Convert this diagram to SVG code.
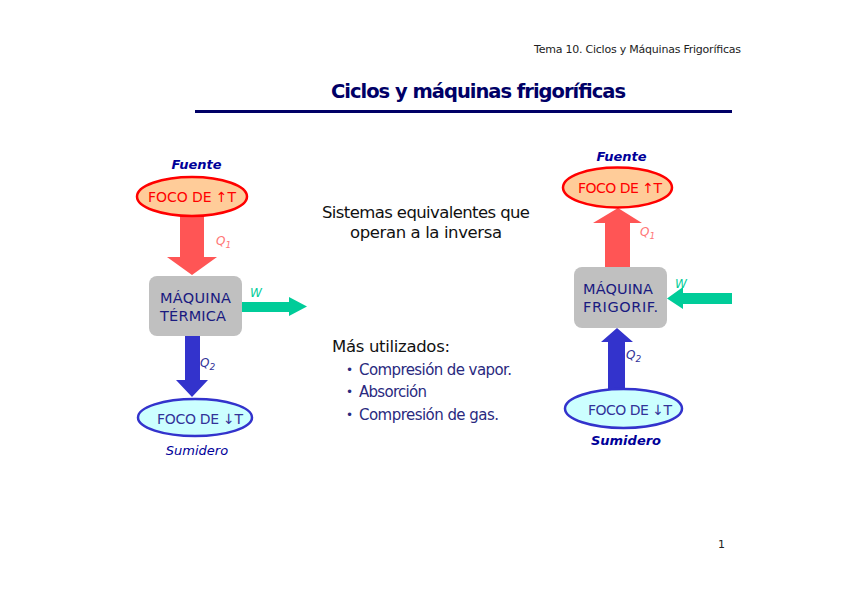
<svg xmlns="http://www.w3.org/2000/svg" width="848" height="599" viewBox="0 0 848 599">
<style>
text{font-family:"DejaVu Sans","Liberation Sans",sans-serif}
.hdr{font-size:11px;fill:#222}
.title{font-size:19.5px;font-weight:bold;fill:#000066}
.lbl{font-size:13px;font-style:italic;fill:#000099}
.lblb{font-size:13px;font-style:italic;font-weight:bold;fill:#000099}
.hot{fill:#ffcc99;stroke:#ff0000;stroke-width:2.5}
.cold{fill:#ccffff;stroke:#3333cc;stroke-width:2.5}
.hott{font-size:14px;fill:#ff0000}
.coldt{font-size:14px;fill:#333399}
.box{fill:#c0c0c0}
.boxt{font-size:14.5px;fill:#1a1a80}
.red{fill:#ff5555}
.blue{fill:#3333cc}
.green{fill:#00cc99}
.q1{font-size:12px;font-style:italic;fill:#ff7777}
.q2{font-size:12px;font-style:italic;fill:#333399}
.w{font-size:12px;font-style:italic;fill:#00cc99}
.mid{font-size:16.5px;fill:#111}
.bul{font-size:15px;fill:#2a2a80}
.dot{font-size:12px;fill:#2a2a80}
</style>
<rect width="848" height="599" fill="#fff"/>
<text class="hdr" x="534" y="53" textLength="207">Tema 10. Ciclos y Máquinas Frigoríficas</text>
<text class="title" x="331" y="98" textLength="295">Ciclos y máquinas frigoríficas</text>
<rect x="195" y="110" width="537" height="3" fill="#000066"/>

<g id="connectors">
<polygon class="red" points="180,216 204,216 204,257 217,257 192,275 167,257 180,257"/>
<polygon class="green" points="242,302 289,302 289,297 307,306.5 289,316 289,312 242,312"/>
<polygon class="blue" points="185,336 200,336 200,380 208,380 192,397 176,380 185,380"/>
<polygon class="red" points="605,268 630,268 630,223 642,223 618,208 593,223 605,223"/>
<polygon class="green" points="732,293 683,293 683,287 667,298.5 683,309 683,304 732,304"/>
<polygon class="blue" points="608,389 625,389 625,342 633,342 617,328 601,342 608,342"/>
</g>

<g id="hot-left">
<text class="lblb" x="196.5" y="169" text-anchor="middle">Fuente</text>
<ellipse class="hot" cx="192" cy="196.5" rx="55" ry="19.5"/>
<text class="hott" x="192" y="201.5" text-anchor="middle" textLength="88">FOCO DE ↑T</text>
</g>
<g id="engine">
<rect class="box" x="149" y="276" width="93" height="60" rx="8"/>
<text class="boxt" x="160" y="303" textLength="71">MÁQUINA</text>
<text class="boxt" x="160" y="321" textLength="66">TÉRMICA</text>
</g>
<text class="q1" x="216" y="245">Q<tspan font-size="9" dy="3">1</tspan></text>
<text class="w" x="250" y="297">W</text>
<text class="q2" x="200" y="367">Q<tspan font-size="9" dy="3">2</tspan></text>
<g id="cold-left">
<ellipse class="cold" cx="195" cy="417.5" rx="57" ry="18.5"/>
<text class="coldt" x="200" y="424" text-anchor="middle" textLength="86">FOCO DE ↓T</text>
<text class="lbl" x="197" y="455" text-anchor="middle">Sumidero</text>
</g>

<g id="hot-right">
<text class="lblb" x="621.5" y="161" text-anchor="middle">Fuente</text>
<ellipse class="hot" cx="617.5" cy="187.5" rx="54.5" ry="20"/>
<text class="hott" x="620" y="193" text-anchor="middle" textLength="84">FOCO DE ↑T</text>
</g>
<g id="fridge">
<rect class="box" x="574" y="267" width="93" height="61" rx="8"/>
<text class="boxt" x="583" y="294" textLength="70">MÁQUINA</text>
<text class="boxt" x="583" y="312" textLength="75">FRIGORIF.</text>
</g>
<text class="q1" x="640" y="236">Q<tspan font-size="9" dy="3">1</tspan></text>
<text class="w" x="675" y="288">W</text>
<text class="q2" x="626" y="359">Q<tspan font-size="9" dy="3">2</tspan></text>
<g id="cold-right">
<ellipse class="cold" cx="623.5" cy="408.5" rx="58.5" ry="19.5"/>
<text class="coldt" x="630" y="415" text-anchor="middle" textLength="84">FOCO DE ↓T</text>
<text class="lblb" x="626" y="445" text-anchor="middle">Sumidero</text>
</g>

<text class="mid" x="426" y="218" text-anchor="middle" textLength="208">Sistemas equivalentes que</text>
<text class="mid" x="426" y="238" text-anchor="middle" textLength="152">operan a la inversa</text>
<text class="mid" x="332" y="352" textLength="118">Más utilizados:</text>
<text class="dot" x="346" y="374">•</text>
<text class="bul" x="359" y="375" textLength="153">Compresión de vapor.</text>
<text class="dot" x="346" y="396">•</text>
<text class="bul" x="359" y="397" textLength="68">Absorción</text>
<text class="dot" x="346" y="419">•</text>
<text class="bul" x="359" y="420" textLength="140">Compresión de gas.</text>
<text class="hdr" x="718" y="548" font-size="10">1</text>
</svg>
